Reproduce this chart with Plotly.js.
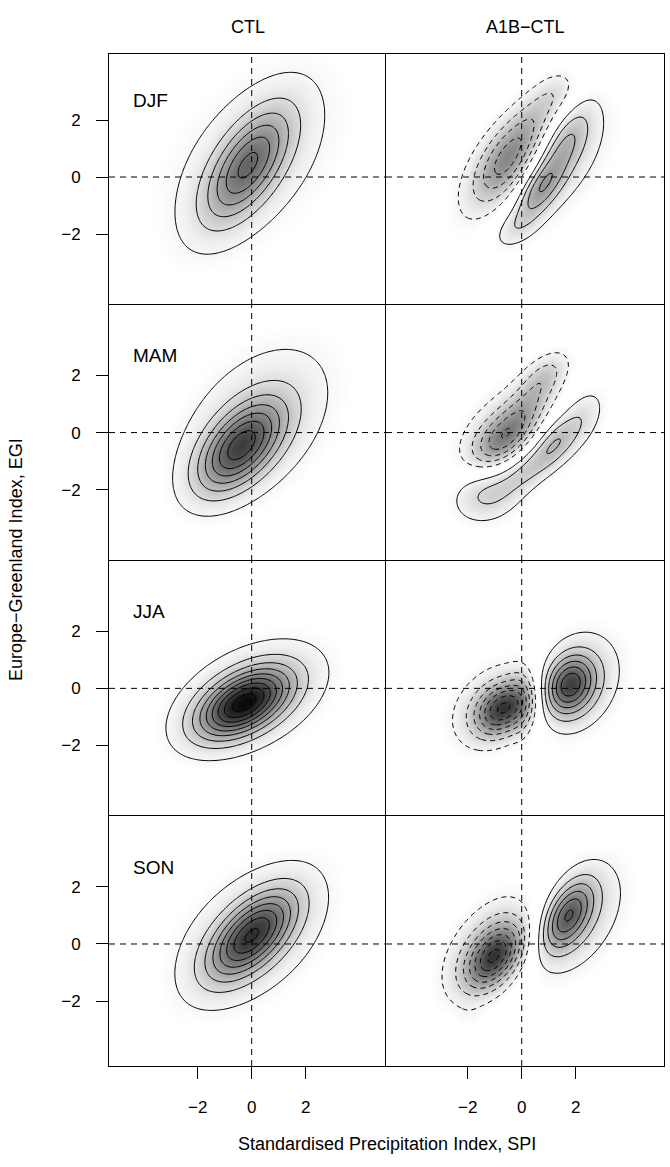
<!DOCTYPE html>
<html><head><meta charset="utf-8">
<script src="https://cdn.plot.ly/plotly-3.0.1.min.js"></script>
<style>html,body{margin:0;padding:0;background:#fff}</style>
</head><body>
<div id="chart" style="width:670px;height:1167px"></div>
<script>
// ---------------- data ----------------
const seasons = ['DJF', 'MAM', 'JJA', 'SON'];
const columnTitles = ['CTL', 'A1B\u2212CTL'];
const tickVals = [-2, 0, 2];
const tickText = ['\u22122', '0', '2'];
const xTitle = 'Standardised Precipitation Index, SPI';
const yTitle = 'Europe\u2212Greenland Index, EGI';

// density components: [meanSPI, meanEGI, sdSPI, sdEGI, corr, relativeHeight]
const ctlDJF = [[-0.15, 0.40, 1.05, 1.30, 0.62, 1.0], [0.00, 0.60, 2.75, 2.80, 0.45, 0.30]];
const ctlMAM = [[-0.42, -0.50, 1.05, 1.05, 0.55, 1.0], [0.20, 0.40, 2.30, 2.25, 0.40, 0.30]];
const ctlJJA = [[-0.30, -0.52, 1.10, 0.78, 0.50, 1.0], [-0.05, -0.30, 2.20, 1.55, 0.40, 0.28]];
const ctlSON = [[0.00, 0.30, 1.05, 1.00, 0.60, 1.0], [0.00, 0.30, 2.30, 2.05, 0.42, 0.29]];
const ctlPeak = [0.063, 0.077, 0.096, 0.082];   // peak density per season
const ctlStep = 0.01;                            // contour interval

const posDJF = [[0.65, -0.45, 0.60, 0.70, 0.60, 1.0], [1.60, 1.20, 0.70, 0.95, 0.60, 0.85],
                [-0.30, -1.80, 0.65, 0.55, 0.50, 0.45], [1.60, 0.40, 1.65, 1.90, 0.60, 0.42]];
const negDJF = [[-0.65, 0.45, 0.80, 0.95, 0.55, 1.0], [0.40, 1.90, 0.85, 0.95, 0.60, 0.60],
                [1.30, 3.00, 0.60, 0.55, 0.40, 0.30], [-0.80, 0.20, 1.50, 1.80, 0.60, 0.42],
                [-2.50, -2.70, 0.35, 0.35, 0.00, 0.06]];
const posMAM = [[1.20, -0.35, 0.55, 0.60, 0.50, 0.60], [0.20, -1.25, 0.70, 0.60, 0.60, 0.50],
                [-1.40, -2.10, 0.90, 0.75, 0.10, 0.62], [2.20, 0.55, 0.65, 0.80, 0.50, 0.45],
                [0.30, -1.00, 1.80, 1.30, 0.65, 0.25]];
const negMAM = [[-0.75, -0.30, 0.80, 0.72, 0.50, 1.0], [0.25, 1.00, 0.80, 0.90, 0.70, 0.55],
                [0.90, 2.10, 0.60, 0.55, 0.50, 0.35], [-0.70, 0.20, 1.50, 1.40, 0.50, 0.40]];
const posJJA = [[1.75, 0.12, 0.62, 0.68, 0.20, 1.0], [2.00, 0.20, 1.30, 1.40, 0.25, 0.40]];
const negJJA = [[-0.70, -0.72, 0.65, 0.60, 0.30, 1.0], [-0.85, -0.55, 1.30, 1.15, 0.35, 0.42],
                [0.05, -0.55, 0.35, 0.90, 0.00, 0.25]];
const posSON = [[1.70, 1.00, 0.62, 0.80, 0.50, 1.0], [2.10, 0.90, 1.35, 1.60, 0.45, 0.42]];
const negSON = [[-1.00, -0.45, 0.70, 0.75, 0.45, 1.0], [-1.20, -0.10, 1.30, 1.40, 0.50, 0.42],
                [-1.90, -2.70, 0.40, 0.40, 0.00, 0.05]];
const diffPosPeak = [4.6, 3.45, 7.15, 6.3];      // in contour intervals
const diffNegPeak = [4.8, 5.4, 7.5, 7.4];
const diffStep = 0.002;

const ctlComps = [ctlDJF, ctlMAM, ctlJJA, ctlSON];
const posComps = [posDJF, posMAM, posJJA, posSON];
const negComps = [negDJF, negMAM, negJJA, negSON];

// ---------------- geometry / style ----------------
const W = 670, H = 1167;
const colPx = [[109, 386], [386, 664]];
const rowPx = [[54, 305], [305, 561], [561, 816], [816, 1066]];
const xRanges = [[-5.285, 4.974], [-5.026, 5.27]];
const yRanges = [[-4.49, 4.316], [-4.5, 4.47], [-4.48, 4.47], [-4.28, 4.49]];
const FONT = 'Liberation Sans, Arial, Helvetica, sans-serif';
const shade = [[0, '#ffffff'], [0.06, '#ffffff'], [0.15, '#eeeeee'], [1, '#0a0a0a']];

// evaluation grid
const gx = [], gy = [];
for (let i = 0; i <= 140; i++) gx.push(-5.6 + i * 0.08);
for (let j = 0; j <= 124; j++) gy.push(-4.96 + j * 0.08);

function surface(comps, peak) {
  const z = [];
  let mx = 0;
  for (const y of gy) {
    const row = [];
    for (const x of gx) {
      let s = 0;
      for (const [m1, m2, s1, s2, r, h] of comps) {
        const dx = (x - m1) / s1, dy = (y - m2) / s2;
        const q = (dx * dx - 2 * r * dx * dy + dy * dy) / (1 - r * r);
        s += h * Math.exp(-q / 2);
      }
      row.push(s);
      if (s > mx) mx = s;
    }
    z.push(row);
  }
  return z.map(row => row.map(v => v / mx * peak));
}

const traces = [];
const layout = {
  width: W, height: H, margin: {l: 0, r: 0, t: 0, b: 0},
  paper_bgcolor: 'white', plot_bgcolor: 'white', showlegend: false,
  font: {family: FONT, color: 'black'},
  annotations: [], shapes: []
};

for (let r = 0; r < 4; r++) {
  for (let c = 0; c < 2; c++) {
    const idx = r * 2 + c + 1;
    const sfx = idx === 1 ? '' : String(idx);
    const xa = 'x' + sfx, ya = 'y' + sfx;
    layout['xaxis' + sfx] = {
      domain: [colPx[c][0] / W, colPx[c][1] / W], range: xRanges[c], anchor: ya,
      showgrid: false, zeroline: false, showline: true, mirror: true,
      linecolor: 'black', linewidth: 1,
      ticks: r === 3 ? 'outside' : '', tickvals: tickVals, ticktext: tickText,
      showticklabels: r === 3, ticklen: 12, tickwidth: 1, tickcolor: 'black',
      tickfont: {size: 17, family: FONT}, ticklabelstandoff: 14, fixedrange: true
    };
    layout['yaxis' + sfx] = {
      domain: [1 - rowPx[r][1] / H, 1 - rowPx[r][0] / H], range: yRanges[r], anchor: xa,
      showgrid: false, zeroline: false, showline: true, mirror: true,
      linecolor: 'black', linewidth: 1,
      ticks: c === 0 ? 'outside' : '', tickvals: tickVals, ticktext: tickText,
      showticklabels: c === 0, ticklen: 12, tickwidth: 1, tickcolor: 'black',
      tickfont: {size: 17, family: FONT}, ticklabelstandoff: 12, fixedrange: true
    };

    if (c === 0) {
      const z = surface(ctlComps[r], ctlPeak[r]);
      traces.push({type: 'heatmap', x: gx, y: gy, z: z, xaxis: xa, yaxis: ya,
        colorscale: shade, zmin: 0, zmax: 0.095, zsmooth: 'best', showscale: false, hoverinfo: 'skip'});
      traces.push({type: 'contour', x: gx, y: gy, z: z, xaxis: xa, yaxis: ya,
        autocontour: false, contours: {coloring: 'none', start: ctlStep, end: ctlStep * 20, size: ctlStep},
        line: {color: 'black', width: 1, smoothing: 1}, showscale: false, hoverinfo: 'skip'});
    } else {
      const p = surface(posComps[r], diffPosPeak[r] * diffStep);
      const n = surface(negComps[r], diffNegPeak[r] * diffStep);
      const d = p.map((row, j) => row.map((v, i) => v - n[j][i]));
      const a = d.map(row => row.map(v => Math.abs(v)));
      const neg = d.map(row => row.map(v => -v));
      traces.push({type: 'heatmap', x: gx, y: gy, z: a, xaxis: xa, yaxis: ya,
        colorscale: shade, zmin: 0, zmax: 8.5 * diffStep, zsmooth: 'best', showscale: false, hoverinfo: 'skip'});
      traces.push({type: 'contour', x: gx, y: gy, z: d, xaxis: xa, yaxis: ya,
        autocontour: false, contours: {coloring: 'none', start: diffStep, end: diffStep * 20, size: diffStep},
        line: {color: 'black', width: 1, smoothing: 1}, showscale: false, hoverinfo: 'skip'});
      traces.push({type: 'contour', x: gx, y: gy, z: neg, xaxis: xa, yaxis: ya,
        autocontour: false, contours: {coloring: 'none', start: diffStep, end: diffStep * 20, size: diffStep},
        line: {color: 'black', width: 1, dash: '5px,4px', smoothing: 1}, showscale: false, hoverinfo: 'skip'});
    }

    layout.shapes.push({type: 'line', xref: xa, yref: ya + ' domain', x0: 0, x1: 0, y0: 0, y1: 1,
      line: {color: 'black', width: 1, dash: '6px,5px'}});
    layout.shapes.push({type: 'line', xref: xa + ' domain', yref: ya, x0: 0, x1: 1, y0: 0, y1: 0,
      line: {color: 'black', width: 1, dash: '6px,5px'}});

    if (c === 0) {
      layout.annotations.push({xref: xa, yref: ya, x: -4.48, y: 2.7, text: seasons[r],
        showarrow: false, xanchor: 'left', yanchor: 'middle', font: {size: 19, family: FONT}});
    }
  }
}

for (let c = 0; c < 2; c++) {
  layout.annotations.push({xref: 'paper', yref: 'paper', x: (colPx[c][0] + colPx[c][1]) / 2 / W,
    y: 1 - 27 / H, text: columnTitles[c], showarrow: false, xanchor: 'center', yanchor: 'middle',
    font: {size: 18, family: FONT}});
}
layout.annotations.push({xref: 'paper', yref: 'paper', x: 386.5 / W, y: 1 - 1144 / H, text: xTitle,
  showarrow: false, xanchor: 'center', yanchor: 'middle', font: {size: 18, family: FONT}});
layout.annotations.push({xref: 'paper', yref: 'paper', x: 16 / W, y: 1 - 560 / H, text: yTitle,
  showarrow: false, xanchor: 'center', yanchor: 'middle', textangle: -90, font: {size: 18, family: FONT}});

Plotly.newPlot('chart', traces, layout, {staticPlot: true, displayModeBar: false});
</script>
</body></html>
